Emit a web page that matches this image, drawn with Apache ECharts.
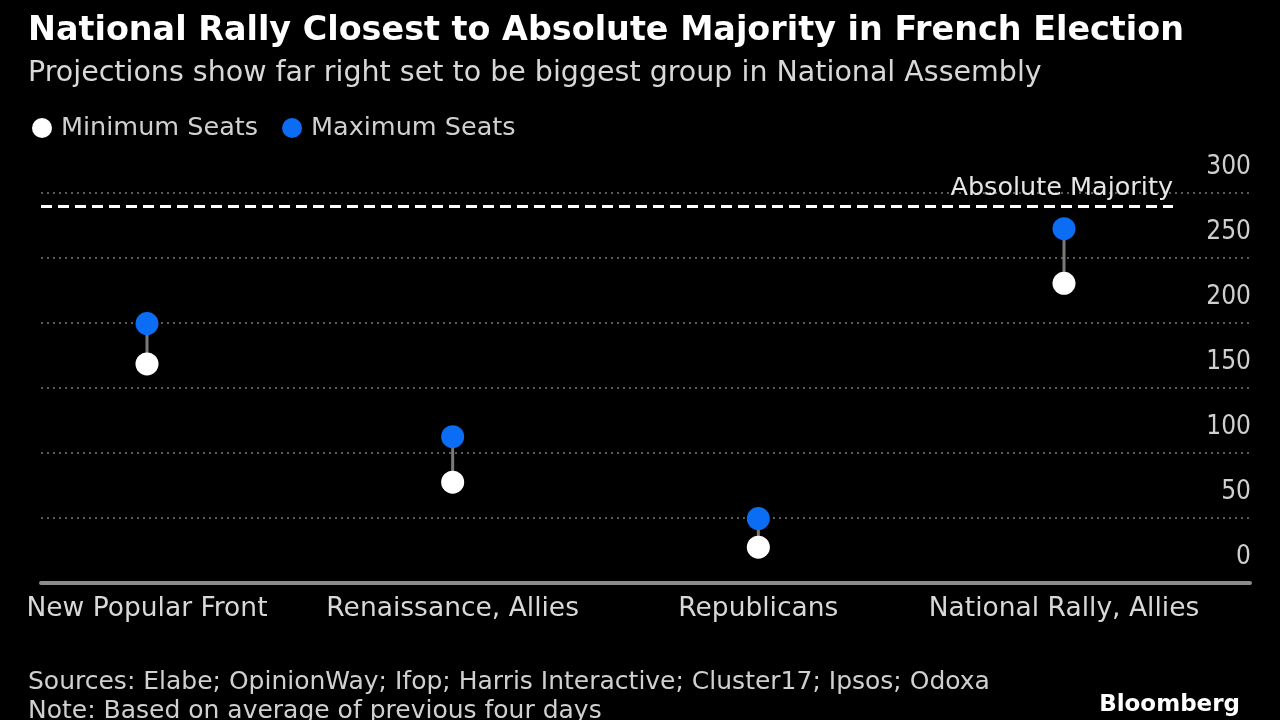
<!DOCTYPE html>
<html><head><meta charset="utf-8">
<script src="https://cdn.jsdelivr.net/npm/echarts@6/dist/echarts.min.js"></script>
<style>html,body{margin:0;background:#000}#c{width:1280px;height:720px}</style>
</head><body><div id="c"></div>
<script>
const categories = ['New Popular Front', 'Renaissance, Allies', 'Republicans', 'National Rally, Allies'];
const minSeats = [168, 77, 27, 230];
const maxSeats = [199, 112, 49, 272];
const yMin = 0, yMax = 300, yStep = 50;
const majority = 289;
const majorityLabel = 'Absolute Majority';

const FONT = 'DejaVu Sans';
const FONT_C = 'DejaVu Sans Condensed';
const BLUE = '#0b6cf4';
const catIdx = categories.map((c, i) => i);

const chart = echarts.init(document.getElementById('c'));
chart.setOption({
  backgroundColor: '#000',
  animation: false,
  textStyle: { fontFamily: FONT },
  title: [
    { text: 'National Rally Closest to Absolute Majority in French Election', left: 23, top: 10,
      textStyle: { color: '#fff', fontSize: 33.4, fontWeight: 'bold', fontFamily: FONT } },
    { text: 'Projections show far right set to be biggest group in National Assembly', left: 23, top: 54,
      textStyle: { color: '#d8d8d8', fontSize: 28.5, fontWeight: 'normal', fontFamily: FONT } },
    { text: 'Sources: Elabe; OpinionWay; Ifop; Harris Interactive; Cluster17; Ipsos; Odoxa', left: 23, top: 665,
      textStyle: { color: '#d0d0d0', fontSize: 25, fontWeight: 'normal', fontFamily: FONT } },
    { text: 'Note: Based on average of previous four days', left: 23, top: 694,
      textStyle: { color: '#d0d0d0', fontSize: 25, fontWeight: 'normal', fontFamily: FONT } },
    { text: 'Bloomberg', right: 35, top: 689,
      textStyle: { color: '#fff', fontSize: 23, fontWeight: 'bold', fontFamily: FONT } }
  ],
  legend: {
    left: 27, top: 110, itemWidth: 20, itemHeight: 20, itemGap: 24,
    icon: 'circle',
    textStyle: { color: '#d0d0d0', fontSize: 25.5, fontFamily: FONT, padding: [0, 0, 0, 4] },
    data: ['Minimum Seats', 'Maximum Seats']
  },
  grid: { left: 41, right: 30, top: 192.3, bottom: 720 - 582.3, containLabel: false },
  xAxis: {
    type: 'value', min: -0.3468, max: 3.6085,
    axisLine: { show: true, onZero: false, lineStyle: { color: '#8c8c8c', width: 4 } },
    axisTick: { show: false }, splitLine: { show: false },
    axisLabel: { customValues: catIdx, formatter: v => categories[v], color: '#d8d8d8',
      fontSize: 26.5, fontFamily: FONT, margin: 13, hideOverlap: false }
  },
  yAxis: {
    type: 'value', position: 'right', min: yMin, max: yMax, interval: yStep,
    axisLine: { show: false }, axisTick: { show: false },
    axisLabel: { inside: true, margin: -1, color: '#cfcfcf', fontSize: 26, fontFamily: FONT_C,
      align: 'right', verticalAlign: 'bottom', padding: [0, 0, 12, 0] },
    splitLine: { show: true, lineStyle: { color: '#5a5a5a', width: 2, type: [2, 4] } }
  },
  series: [
    { type: 'line', data: [], silent: true,
      markLine: { silent: true, symbol: 'none',
        lineStyle: { color: '#fff', width: 3, type: [11, 6] },
        label: { show: true, position: 'insideEndTop', formatter: majorityLabel, color: '#e6e6e6',
          fontSize: 25.5, fontFamily: FONT, distance: [0, 5] },
        data: [[{ coord: [-0.3468, majority] }, { coord: [3.3566, majority] }]] } },
    { type: 'custom', silent: true,
      data: catIdx.map(i => [i, minSeats[i], maxSeats[i]]),
      renderItem: function (params, api) {
        const a = api.coord([api.value(0), api.value(1)]);
        const b = api.coord([api.value(0), api.value(2)]);
        return { type: 'line', shape: { x1: a[0], y1: a[1], x2: b[0], y2: b[1] },
          style: { stroke: '#7a7a7a', lineWidth: 3 } };
      } },
    { name: 'Minimum Seats', type: 'scatter', symbolSize: 23,
      itemStyle: { color: '#fff', opacity: 1 }, data: catIdx.map(i => [i, minSeats[i]]), z: 3 },
    { name: 'Maximum Seats', type: 'scatter', symbolSize: 23,
      itemStyle: { color: BLUE, opacity: 1 }, data: catIdx.map(i => [i, maxSeats[i]]), z: 3 }
  ]
});
</script></body></html>
